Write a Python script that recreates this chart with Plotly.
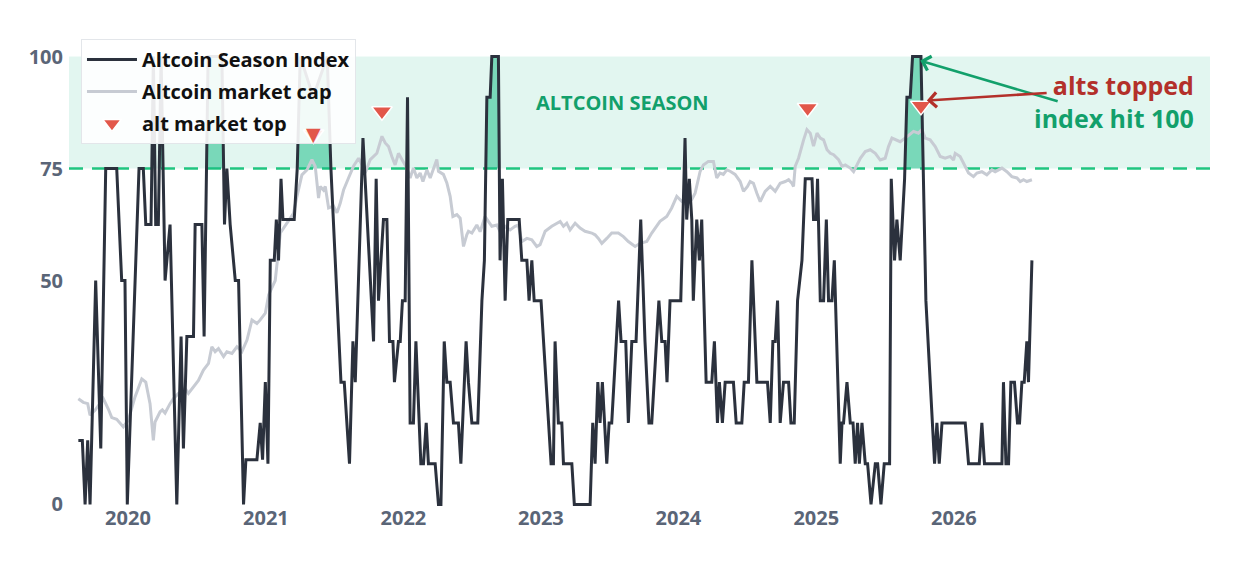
import numpy as np
import pandas as pd
import plotly.graph_objects as go

# ---------------- data (dates as decimal years) ----------------
asi_year = [2019.639, 2019.668, 2019.688, 2019.707, 2019.724, 2019.765, 2019.802, 2019.838, 2019.918, 2019.954,
            2019.978, 2019.995, 2020.080, 2020.111, 2020.129, 2020.167, 2020.184, 2020.201, 2020.220, 2020.240,
            2020.269, 2020.305, 2020.354, 2020.385, 2020.402, 2020.427, 2020.475, 2020.487, 2020.536, 2020.552,
            2020.581, 2020.681, 2020.700, 2020.717, 2020.741, 2020.778, 2020.802, 2020.838, 2020.855, 2020.935,
            2020.959, 2020.976, 2020.996, 2021.015, 2021.032, 2021.061, 2021.076, 2021.092, 2021.110, 2021.124,
            2021.206, 2021.228, 2021.250, 2021.344, 2021.446, 2021.473, 2021.546, 2021.570, 2021.608, 2021.633,
            2021.650, 2021.706, 2021.783, 2021.802, 2021.819, 2021.855, 2021.880, 2021.899, 2021.924, 2021.935,
            2021.964, 2021.977, 2021.993, 2022.013, 2022.030, 2022.049, 2022.073, 2022.091, 2022.127, 2022.146,
            2022.166, 2022.182, 2022.231, 2022.255, 2022.273, 2022.297, 2022.316, 2022.340, 2022.364, 2022.400,
            2022.418, 2022.456, 2022.473, 2022.498, 2022.541, 2022.571, 2022.589, 2022.607, 2022.631, 2022.643,
            2022.691, 2022.703, 2022.720, 2022.740, 2022.759, 2022.842, 2022.861, 2022.898, 2022.914, 2022.934,
            2022.951, 2023.001, 2023.074, 2023.091, 2023.103, 2023.127, 2023.152, 2023.164, 2023.225, 2023.243,
            2023.358, 2023.377, 2023.394, 2023.414, 2023.430, 2023.447, 2023.479, 2023.496, 2023.515, 2023.565,
            2023.583, 2023.617, 2023.636, 2023.661, 2023.692, 2023.726, 2023.757, 2023.786, 2023.806, 2023.858,
            2023.879, 2023.903, 2023.917, 2023.939, 2024.017, 2024.048, 2024.060, 2024.079, 2024.097, 2024.108,
            2024.133, 2024.152, 2024.169, 2024.201, 2024.242, 2024.261, 2024.283, 2024.297, 2024.319, 2024.339,
            2024.399, 2024.419, 2024.460, 2024.477, 2024.508, 2024.533, 2024.569, 2024.646, 2024.666, 2024.685,
            2024.702, 2024.719, 2024.738, 2024.762, 2024.799, 2024.816, 2024.840, 2024.864, 2024.896, 2024.920,
            2024.969, 2024.980, 2025.000, 2025.009, 2025.029, 2025.053, 2025.073, 2025.089, 2025.114, 2025.131,
            2025.174, 2025.187, 2025.198, 2025.223, 2025.247, 2025.267, 2025.283, 2025.300, 2025.313, 2025.332,
            2025.356, 2025.373, 2025.398, 2025.429, 2025.446, 2025.470, 2025.494, 2025.533, 2025.545, 2025.569,
            2025.586, 2025.610, 2025.642, 2025.659, 2025.683, 2025.700, 2025.761, 2025.797, 2025.860, 2025.877,
            2025.894, 2025.914, 2026.083, 2026.107, 2026.185, 2026.204, 2026.223, 2026.350, 2026.361, 2026.379,
            2026.398, 2026.415, 2026.441, 2026.463, 2026.478, 2026.495, 2026.512, 2026.531, 2026.543, 2026.568]
asi_value = [14.3, 14.3, 0, 14.3, 0, 50, 12.5, 75, 75, 50,
             50, 0, 75, 75, 62.5, 62.5, 100, 62.5, 62.5, 100,
             50, 62.5, 0, 37.5, 12.5, 37.5, 37.5, 62.5, 62.5, 37.5,
             100, 100, 62.5, 75, 62.5, 50, 50, 0, 10, 10,
             18.2, 10, 27.3, 9.1, 54.5, 54.5, 63.6, 54.5, 72.7, 63.6,
             63.6, 75, 100, 91, 100, 75, 27.3, 27.3, 9.1, 36.4,
             27.3, 81.8, 36.4, 72.7, 45.5, 63.6, 63.6, 36.4, 36.4, 27.3,
             36.4, 36.4, 45.5, 45.5, 90.9, 18.2, 18.2, 36.4, 9.1, 9.1,
             18.2, 9.1, 9.1, 0, 0, 36.4, 27.3, 27.3, 18.2, 18.2,
             9.1, 36.4, 27.3, 18.2, 18.2, 45.5, 54.5, 90.9, 90.9, 100,
             100, 54.5, 72.7, 45.5, 63.6, 63.6, 54.5, 54.5, 45.5, 54.5,
             45.5, 45.5, 9.1, 9.1, 36.4, 18.2, 18.2, 9.1, 9.1, 0,
             0, 18.2, 9.1, 27.3, 18.2, 27.3, 9.1, 18.2, 18.2, 45.5,
             36.4, 36.4, 18.2, 36.4, 36.4, 63.6, 36.4, 18.2, 18.2, 45.5,
             36.4, 36.4, 27.3, 45.5, 45.5, 81.8, 63.6, 72.7, 63.6, 45.5,
             63.6, 54.5, 63.6, 27.3, 27.3, 36.4, 18.2, 27.3, 18.2, 27.3,
             27.3, 18.2, 18.2, 27.3, 27.3, 54.5, 27.3, 27.3, 18.2, 36.4,
             36.4, 45.5, 18.2, 27.3, 27.3, 18.2, 18.2, 45.5, 54.5, 72.7,
             72.7, 63.6, 63.6, 72.7, 45.5, 45.5, 63.6, 45.5, 45.5, 54.5,
             9.1, 18.2, 18.2, 27.3, 18.2, 18.2, 9.1, 18.2, 9.1, 18.2,
             9.1, 9.1, 0, 9.1, 9.1, 0, 9.1, 9.1, 72.7, 54.5,
             63.6, 54.5, 72.7, 90.9, 90.9, 100, 100, 45.5, 9.1, 18.2,
             9.1, 18.2, 18.2, 9.1, 9.1, 18.2, 9.1, 9.1, 27.3, 9.1,
             9.1, 27.3, 27.3, 18.2, 18.2, 27.3, 27.3, 36.4, 27.3, 54.5]

# altcoin market cap, scaled onto the index range
mcap_year = [2019.639, 2019.675, 2019.707, 2019.724, 2019.760, 2019.821, 2019.857, 2019.882, 2019.918, 2019.966,
             2020.002, 2020.051, 2020.100, 2020.129, 2020.160, 2020.184, 2020.196, 2020.233, 2020.249, 2020.269,
             2020.305, 2020.329, 2020.366, 2020.414, 2020.438, 2020.475, 2020.511, 2020.547, 2020.584, 2020.608,
             2020.632, 2020.656, 2020.693, 2020.717, 2020.754, 2020.790, 2020.826, 2020.863, 2020.899, 2020.935,
             2020.959, 2020.996, 2021.020, 2021.068, 2021.081, 2021.105, 2021.153, 2021.201, 2021.226, 2021.262,
             2021.299, 2021.335, 2021.359, 2021.383, 2021.395, 2021.419, 2021.432, 2021.456, 2021.492, 2021.517,
             2021.541, 2021.565, 2021.601, 2021.637, 2021.674, 2021.698, 2021.722, 2021.759, 2021.807, 2021.844,
             2021.868, 2021.892, 2021.916, 2021.940, 2021.964, 2021.989, 2022.025, 2022.049, 2022.073, 2022.098,
             2022.122, 2022.142, 2022.171, 2022.195, 2022.219, 2022.243, 2022.255, 2022.291, 2022.316, 2022.340,
             2022.360, 2022.389, 2022.413, 2022.437, 2022.461, 2022.473, 2022.498, 2022.534, 2022.558, 2022.594,
             2022.618, 2022.643, 2022.680, 2022.703, 2022.740, 2022.776, 2022.812, 2022.836, 2022.861, 2022.898,
             2022.934, 2022.970, 2022.994, 2023.031, 2023.079, 2023.116, 2023.140, 2023.164, 2023.188, 2023.212,
             2023.249, 2023.285, 2023.321, 2023.370, 2023.394, 2023.418, 2023.443, 2023.479, 2023.515, 2023.563,
             2023.600, 2023.636, 2023.685, 2023.721, 2023.770, 2023.806, 2023.842, 2023.866, 2023.915, 2023.951,
             2023.988, 2024.024, 2024.060, 2024.097, 2024.121, 2024.157, 2024.181, 2024.217, 2024.254, 2024.278,
             2024.302, 2024.326, 2024.351, 2024.375, 2024.411, 2024.448, 2024.472, 2024.501, 2024.520, 2024.544,
             2024.569, 2024.593, 2024.629, 2024.666, 2024.702, 2024.738, 2024.775, 2024.799, 2024.823, 2024.835,
             2024.847, 2024.871, 2024.908, 2024.932, 2024.956, 2024.980, 2025.005, 2025.029, 2025.053, 2025.078,
             2025.102, 2025.126, 2025.162, 2025.187, 2025.211, 2025.247, 2025.271, 2025.296, 2025.320, 2025.356,
             2025.392, 2025.429, 2025.465, 2025.501, 2025.525, 2025.550, 2025.586, 2025.610, 2025.647, 2025.683,
             2025.707, 2025.743, 2025.768, 2025.792, 2025.828, 2025.865, 2025.901, 2025.937, 2025.974, 2025.998,
             2026.010, 2026.046, 2026.070, 2026.107, 2026.143, 2026.168, 2026.204, 2026.240, 2026.277, 2026.301,
             2026.350, 2026.386, 2026.422, 2026.459, 2026.483, 2026.507, 2026.531, 2026.568]
mcap_value = [23.6, 22.8, 22.5, 19.9, 21.0, 23.6, 21.3, 19.4, 19.0, 17.3,
              18.8, 24.0, 28.0, 27.3, 22.5, 14.3, 18.4, 20.7, 21.1, 20.4,
              22.5, 23.6, 24.8, 25.9, 24.8, 26.3, 27.7, 30.0, 31.5, 35.2,
              34.1, 34.8, 33.0, 34.1, 33.7, 35.2, 34.1, 36.7, 41.2, 40.4,
              41.2, 42.7, 46.8, 50.0, 53.8, 60.6, 62.8, 65.0, 68.8, 73.6,
              74.7, 77.0, 75.5, 68.4, 71.0, 70.2, 71.0, 66.2, 66.6, 65.1,
              67.3, 70.2, 72.9, 75.5, 77.3, 75.9, 74.0, 77.0, 78.4, 82.2,
              80.7, 79.9, 77.7, 75.8, 78.4, 77.0, 75.1, 72.9, 75.1, 72.9,
              74.0, 72.1, 74.7, 72.9, 75.1, 77.0, 74.4, 73.7, 71.8, 68.8,
              64.3, 64.7, 63.9, 57.6, 60.2, 61.0, 60.6, 62.4, 60.9, 64.3,
              63.2, 62.1, 62.4, 60.9, 62.1, 61.3, 62.1, 62.4, 58.7, 59.4,
              59.1, 57.6, 58.0, 61.0, 62.1, 62.8, 63.2, 62.1, 62.8, 61.3,
              62.8, 61.7, 61.0, 60.6, 60.2, 59.4, 58.3, 59.4, 60.6, 60.6,
              59.8, 58.7, 57.6, 58.3, 58.7, 60.6, 62.1, 63.2, 64.3, 66.2,
              68.8, 67.7, 66.9, 68.1, 69.5, 74.3, 75.8, 76.6, 76.6, 72.9,
              74.0, 73.7, 74.7, 74.4, 73.7, 72.1, 69.9, 71.0, 72.1, 71.7,
              69.5, 67.6, 69.9, 71.0, 69.9, 71.7, 72.1, 72.5, 71.7, 71.0,
              75.5, 77.3, 81.4, 83.7, 82.9, 80.0, 82.9, 81.8, 81.4, 79.2,
              78.4, 78.1, 77.0, 75.5, 75.8, 75.1, 74.3, 75.8, 77.3, 78.8,
              79.2, 78.4, 76.9, 77.3, 79.9, 81.8, 81.4, 81.0, 81.8, 82.6,
              83.3, 82.9, 83.7, 81.8, 81.4, 79.9, 77.7, 77.3, 77.7, 76.9,
              78.4, 77.7, 76.2, 74.0, 73.2, 74.0, 74.3, 73.6, 74.7, 74.3,
              75.1, 74.3, 73.2, 72.9, 72.1, 72.5, 72.1, 72.5]

top_year = [2021.347, 2021.844, 2024.937, 2025.761]
top_value = [82.6, 87.8, 88.5, 89.0]

SEASON_LEVEL = 75
x_range_years = [2019.571, 2027.863]
x_tick_years = [2020, 2021, 2022, 2023, 2024, 2025, 2026]
y_ticks = [0, 50, 75, 100]


def to_date(years):
    out = []
    for y in years:
        yi = int(np.floor(y))
        start = pd.Timestamp(year=yi, month=1, day=1)
        ndays = (pd.Timestamp(year=yi + 1, month=1, day=1) - start).days
        out.append(start + pd.Timedelta(days=(y - yi) * ndays))
    return out


asi_x = to_date(asi_year)
mcap_x = to_date(mcap_year)
top_x = to_date(top_year)

# region of the index above the season level (with crossing points)
fx, fy = [], []
for i in range(len(asi_year)):
    y0, v0 = asi_year[i], asi_value[i]
    if i > 0:
        yp, vp = asi_year[i - 1], asi_value[i - 1]
        if (vp - SEASON_LEVEL) * (v0 - SEASON_LEVEL) < 0:
            c = yp + (SEASON_LEVEL - vp) / (v0 - vp) * (y0 - yp)
            fx.append(c)
            fy.append(SEASON_LEVEL)
    fx.append(y0)
    fy.append(max(v0, SEASON_LEVEL))
fill_x = to_date(fx)

BLACK = "#2b313d"
GRAY = "#c7cbd3"
GREEN = "#12a06b"
GREEN_LINE = "#20c580"
RED = "#b3302a"
TRI = "#e2574a"
TICK = "#5a6577"
FONT = "Open Sans"

fig = go.Figure()

fig.add_trace(go.Scatter(x=[asi_x[0], asi_x[-1]], y=[SEASON_LEVEL, SEASON_LEVEL], mode="lines",
                         line=dict(width=0), showlegend=False, hoverinfo="skip"))
fig.add_trace(go.Scatter(x=fill_x, y=fy, mode="lines", line=dict(width=0), fill="tonexty",
                         fillcolor="rgba(16,185,129,0.5)", showlegend=False, hoverinfo="skip"))

fig.add_trace(go.Scatter(x=mcap_x, y=mcap_value, mode="lines", name="Altcoin market cap",
                         line=dict(color=GRAY, width=3), legendrank=2, legendgroup="b"))
fig.add_trace(go.Scatter(x=asi_x, y=asi_value, mode="lines", name="Altcoin Season Index",
                         line=dict(color=BLACK, width=3), legendrank=1, legendgroup="a"))
fig.add_trace(go.Scatter(x=top_x, y=top_value, mode="markers", name="alt market top",
                         marker=dict(symbol="triangle-down", size=18, color=TRI,
                                     line=dict(color="white", width=1.5)),
                         legendrank=3, legendgroup="c"))

fig.add_shape(type="rect", xref="paper", yref="y", x0=0, x1=1, y0=SEASON_LEVEL, y1=100,
              fillcolor="rgba(16,185,129,0.12)", line=dict(width=0), layer="below")
fig.add_shape(type="line", xref="paper", yref="y", x0=0, x1=1, y0=SEASON_LEVEL, y1=SEASON_LEVEL,
              line=dict(color=GREEN_LINE, width=2.5, dash="14px,9px"), layer="below")

# the first market-top marker sits over the legend box in the reference
fig.add_annotation(x=top_x[0], y=top_value[0], text="▼", showarrow=False, yshift=1,
                   font=dict(family="DejaVu Sans", size=19, color=TRI))

fig.add_annotation(x=to_date([2023.590])[0], y=89.7, text="ALTCOIN SEASON", showarrow=False,
                   font=dict(family=FONT, size=20, color=GREEN, weight="bold"))
fig.add_annotation(x=to_date([2027.740])[0], y=90.0, xshift=3,
                   text=f"<span style='color:{RED}'>alts topped</span><br>index hit 100",
                   showarrow=False, xanchor="right", align="right",
                   font=dict(family=FONT, size=25, color=GREEN, weight="bold"))
fig.add_annotation(x=to_date([2025.756])[0], y=99.1, ax=to_date([2026.766])[0], ay=89.9,
                   xref="x", yref="y", axref="x", ayref="y", text="", showarrow=True,
                   arrowhead=4, arrowsize=1.1, arrowwidth=2.6, arrowcolor=GREEN)
fig.add_annotation(x=to_date([2025.804])[0], y=90.2, ax=to_date([2026.686])[0], ay=91.9,
                   xref="x", yref="y", axref="x", ayref="y", text="", showarrow=True,
                   arrowhead=4, arrowsize=1.1, arrowwidth=2.6, arrowcolor=RED)

xr = to_date(x_range_years)
fig.update_layout(
    width=1260, height=580,
    margin=dict(l=69, r=50, t=53, b=72),
    paper_bgcolor="white", plot_bgcolor="white",
    font=dict(family=FONT, color=BLACK),
    showlegend=True,
    legend=dict(x=0.0105, y=1.031, xanchor="left", yanchor="top", traceorder="grouped",
                bgcolor="rgba(255,255,255,0.9)", bordercolor="#e3e6ea", borderwidth=1,
                font=dict(family=FONT, size=20, color="#111111", weight="bold"),
                itemwidth=50, tracegroupgap=3),
    xaxis=dict(range=xr, showgrid=False, zeroline=False, showline=False,
               tickvals=to_date(x_tick_years), ticktext=[str(y) for y in x_tick_years],
               ticks="", ticklabelstandoff=-4,
               tickfont=dict(family=FONT, size=20, color=TICK, weight="bold")),
    yaxis=dict(range=[-0.8, 100.8], showgrid=False, zeroline=False, showline=False,
               tickvals=y_ticks, ticks="", ticklabelstandoff=5,
               tickfont=dict(family=FONT, size=20, color=TICK, weight="bold")),
)

fig.write_html("out.html")
